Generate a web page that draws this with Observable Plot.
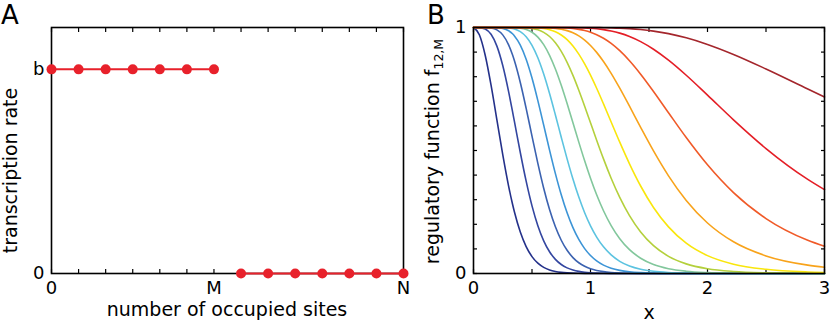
<!DOCTYPE html>
<html><head><meta charset="utf-8">
<script src="https://cdn.jsdelivr.net/npm/d3@7"></script>
<script src="https://cdn.jsdelivr.net/npm/@observablehq/plot@0.6"></script>
<style>
html,body{margin:0;padding:0;background:#fff;}
#wrap{position:relative;width:830px;height:329px;overflow:hidden;font-family:"DejaVu Sans";}
#wrap svg{position:absolute;top:0;}
</style></head><body><div id="wrap"></div>
<script>
// ---------- Panel A data ----------
const sites = [0,1,2,3,4,5,6,7,8,9,10,11,12,13];
const rates = [1,1,1,1,1,1,1,0,0,0,0,0,0,0];
const siteLabelPos = [0,6,13];
const siteLabelText = ["0","M","N"];
const rateLabelPos = [0,1];
const rateLabelText = ["0","b"];

// ---------- Panel B data ----------
const xs = [0, 0.05, 0.1, 0.15, 0.2, 0.25, 0.3, 0.3333, 0.35, 0.4,
            0.45, 0.5, 0.55, 0.6, 0.65, 0.7, 0.75, 0.8, 0.85, 0.9,
            0.95, 1.0, 1.0526, 1.1111, 1.1765, 1.25, 1.3333, 1.4286, 1.5385, 1.6667,
            1.8182, 2.0, 2.2222, 2.5, 2.8571, 3.0];
const f0 = [1, 0.9705, 0.8874, 0.7657, 0.6246, 0.4831, 0.3555, 0.2824, 0.2499, 0.1685,
            0.1094, 0.0687, 0.0419, 0.0250, 0.0146, 0.0084, 0.0047, 0.0026, 0.0015, 0.0008,
            0.0004, 0.0002, 0.0001, 0.0001, 0, 0, 0, 0, 0, 0,
            0, 0, 0, 0, 0, 0];
const f1 = [1, 0.9996, 0.9939, 0.9724, 0.9244, 0.8455, 0.7395, 0.6590, 0.6172, 0.4919,
            0.3752, 0.2749, 0.1942, 0.1329, 0.0884, 0.0575, 0.0366, 0.0229, 0.0142, 0.0087,
            0.0053, 0.0032, 0.0019, 0.0010, 0.0005, 0.0003, 0.0001, 0, 0, 0,
            0, 0, 0, 0, 0, 0];
const f2 = [1, 1, 0.9998, 0.9980, 0.9904, 0.9700, 0.9296, 0.8891, 0.8648, 0.7766,
            0.6713, 0.5583, 0.4475, 0.3465, 0.2600, 0.1898, 0.1352, 0.0943, 0.0647, 0.0437,
            0.0292, 0.0193, 0.0124, 0.0075, 0.0043, 0.0023, 0.0011, 0.0004, 0.0002, 0.0001,
            0, 0, 0, 0, 0, 0];
const f3 = [1, 1, 1, 0.9999, 0.9992, 0.9960, 0.9866, 0.9744, 0.9658, 0.9284,
            0.8711, 0.7946, 0.7029, 0.6029, 0.5017, 0.4060, 0.3201, 0.2467, 0.1863, 0.1383,
            0.1011, 0.0730, 0.0512, 0.0342, 0.0216, 0.0127, 0.0069, 0.0035, 0.0016, 0.0006,
            0.0002, 0.0001, 0, 0, 0, 0];
const f4 = [1, 1, 1, 1, 1, 0.9996, 0.9982, 0.9957, 0.9937, 0.9830,
            0.9622, 0.9274, 0.8768, 0.8105, 0.7315, 0.6443, 0.5541, 0.4661, 0.3840, 0.3106,
            0.2471, 0.1938, 0.1481, 0.1084, 0.0754, 0.0495, 0.0304, 0.0172, 0.0089, 0.0041,
            0.0017, 0.0006, 0.0002, 0, 0, 0];
const f5 = [1, 1, 1, 1, 1, 1, 0.9998, 0.9995, 0.9991, 0.9970,
            0.9917, 0.9806, 0.9609, 0.9302, 0.8868, 0.8311, 0.7648, 0.6907, 0.6126, 0.5340,
            0.4580, 0.3872, 0.3199, 0.2550, 0.1948, 0.1415, 0.0970, 0.0621, 0.0366, 0.0196,
            0.0094, 0.0039, 0.0014, 0.0004, 0.0001, 0.0001];
const f6 = [1, 1, 1, 1, 1, 1, 1, 1, 0.9999, 0.9996,
            0.9986, 0.9961, 0.9906, 0.9804, 0.9634, 0.9379, 0.9030, 0.8585, 0.8052, 0.7450,
            0.6801, 0.6128, 0.5420, 0.4660, 0.3874, 0.3093, 0.2352, 0.1689, 0.1132, 0.0698,
            0.0391, 0.0194, 0.0083, 0.0030, 0.0009, 0.0005];
const f7 = [1, 1, 1, 1, 1, 1, 1, 1, 1, 1,
            0.9999, 0.9994, 0.9983, 0.9959, 0.9911, 0.9828, 0.9696, 0.9505, 0.9246, 0.8916,
            0.8519, 0.8062, 0.7529, 0.6894, 0.6160, 0.5339, 0.4459, 0.3557, 0.2685, 0.1895,
            0.1232, 0.0726, 0.0378, 0.0170, 0.0063, 0.0043];
const f8 = [1, 1, 1, 1, 1, 1, 1, 1, 1, 1,
            1, 0.9999, 0.9998, 0.9994, 0.9985, 0.9965, 0.9931, 0.9873, 0.9784, 0.9658,
            0.9488, 0.9270, 0.8989, 0.8617, 0.8137, 0.7533, 0.6799, 0.5940, 0.4983, 0.3971,
            0.2971, 0.2054, 0.1289, 0.0716, 0.0342, 0.0256];
const f9 = [1, 1, 1, 1, 1, 1, 1, 1, 1, 1,
            1, 1, 1, 0.9999, 0.9998, 0.9996, 0.9989, 0.9977, 0.9957, 0.9925,
            0.9876, 0.9807, 0.9708, 0.9563, 0.9353, 0.9057, 0.8648, 0.8102, 0.7400, 0.6535,
            0.5525, 0.4417, 0.3287, 0.2234, 0.1352, 0.1109];
const f10 = [1, 1, 1, 1, 1, 1, 1, 1, 1, 1,
             1, 1, 1, 1, 1, 1, 0.9999, 0.9998, 0.9995, 0.9990,
             0.9981, 0.9968, 0.9947, 0.9913, 0.9858, 0.9771, 0.9634, 0.9425, 0.9116, 0.8671,
             0.8058, 0.7251, 0.6248, 0.5081, 0.3828, 0.3410];
const f11 = [1, 1, 1, 1, 1, 1, 1, 1, 1, 1,
             1, 1, 1, 1, 1, 1, 1, 1, 1, 0.9999,
             0.9999, 0.9998, 0.9996, 0.9992, 0.9985, 0.9974, 0.9953, 0.9917, 0.9854, 0.9750,
             0.9581, 0.9313, 0.8906, 0.8315, 0.7501, 0.7176];
const curveM = [0,1,2,3,4,5,6,7,8,9,10,11];
const curveColors = ["#24318a","#3346a0","#3b62b0","#3c94d6","#5cc3e0","#82c79c",
                     "#b4d03c","#f9e60c","#f8a31b","#f05a28","#e41e26","#a4262c"];
const xTicksB = [0, 0.5, 1, 1.5, 2, 2.5, 3];
const xLabelsB = [0, 1, 2, 3];
const yTicksB = [0, 0.1, 0.2, 0.3, 0.4, 0.5, 0.6, 0.7, 0.8, 0.9, 1];
const yLabelsB = [0, 1];

const series = [f0,f1,f2,f3,f4,f5,f6,f7,f8,f9,f10,f11];
const rowsB = [];
series.forEach((arr, m) => arr.forEach((v, i) => rowsB.push({x: xs[i], f: v, M: curveM[m]})));
const rowsA = sites.map((s, i) => ({site: s, rate: rates[i], grp: rates[i] > 0 ? "on" : "off"}));

const FONT = "DejaVu Sans";
const baseStyle = {fontFamily: FONT, fontSize: "18px", color: "black", background: "transparent", overflow: "visible"};
const red = "#e8212b";
const TK = 4; // inward tick length (px)
const blank = () => "";
const plain = d => String(d);

function inwardTicks(xTicks, yTicks) {
  const m = [];
  if (xTicks) {
    m.push(Plot.axisX({ticks: xTicks, anchor: "top", tickSize: TK, dy: TK, tickFormat: blank, label: null, strokeWidth: 1.2}));
    m.push(Plot.axisX({ticks: xTicks, anchor: "bottom", tickSize: TK, dy: -TK, tickFormat: blank, label: null, strokeWidth: 1.2}));
  }
  if (yTicks) {
    m.push(Plot.axisY({ticks: yTicks, anchor: "left", tickSize: TK, dx: TK, tickFormat: blank, label: null, strokeWidth: 1.2}));
    m.push(Plot.axisY({ticks: yTicks, anchor: "right", tickSize: TK, dx: -TK, tickFormat: blank, label: null, strokeWidth: 1.2}));
  }
  return m;
}

const plotA = Plot.plot({
  width: 415, height: 329,
  marginLeft: 51, marginRight: 12, marginTop: 27, marginBottom: 56,
  style: baseStyle,
  x: {domain: [0, 13]},
  y: {domain: [0, 1.205]},
  marks: [
    ...inwardTicks(sites, null),
    Plot.axisX({ticks: siteLabelPos, anchor: "bottom", tickSize: 0, tickPadding: 8,
                tickFormat: d => siteLabelText[siteLabelPos.indexOf(d)], label: null}),
    Plot.axisY({ticks: rateLabelPos, anchor: "left", tickSize: 0, tickPadding: 7,
                tickFormat: d => rateLabelText[rateLabelPos.indexOf(d)], label: null}),
    Plot.frame({stroke: "black", strokeWidth: 1.6}),
    Plot.line(rowsA, {x: "site", y: "rate", z: "grp", stroke: red, strokeWidth: 2}),
    Plot.dot(rowsA, {x: "site", y: "rate", r: 5, fill: red, stroke: "none"})
  ]
});

const plotB = Plot.plot({
  width: 415, height: 329,
  marginLeft: 58, marginRight: 6, marginTop: 27, marginBottom: 56,
  style: baseStyle,
  x: {domain: [0, 3]},
  y: {domain: [0, 1]},
  color: {type: "ordinal", domain: curveM, range: curveColors},
  marks: [
    ...inwardTicks(xTicksB, yTicksB),
    Plot.axisX({ticks: xLabelsB, anchor: "bottom", tickSize: 0, tickPadding: 8, tickFormat: plain, label: null}),
    Plot.axisY({ticks: yLabelsB, anchor: "left", tickSize: 0, tickPadding: 7, tickFormat: plain, label: null}),
    Plot.line(rowsB, {x: "x", y: "f", z: "M", stroke: "M", curve: "monotone-x", strokeWidth: 1.6}),
    Plot.frame({stroke: "black", strokeWidth: 1.6})
  ]
});

const wrap = document.getElementById("wrap");
plotA.style.left = "0px";
plotB.style.left = "415px";
wrap.appendChild(plotA);
wrap.appendChild(plotB);

function addText(svg, x, y, txt, size, opts = {}) {
  const t = d3.select(svg).append("text")
    .attr("font-family", FONT).attr("font-size", size).attr("fill", "black")
    .attr("text-anchor", opts.anchor || "start");
  if (opts.rotate) t.attr("transform", `translate(${x},${y}) rotate(-90)`);
  else t.attr("x", x).attr("y", y);
  t.text(txt);
  return t;
}
// Panel A titles
addText(plotA, 1, 24, "A", 26);
addText(plotA, 227, 316, "number of occupied sites", 19, {anchor: "middle"});
addText(plotA, 17, 170.5, "transcription rate", 19, {anchor: "middle", rotate: true});
// Panel B titles
addText(plotB, 12, 24, "B", 26);
addText(plotB, 234, 319, "x", 19, {anchor: "middle"});
const yt = addText(plotB, 24, 151.5, "regulatory function f", 19, {anchor: "middle", rotate: true});
yt.append("tspan").attr("font-size", 12.5).attr("dy", 4).text("12,M");
</script></body></html>
